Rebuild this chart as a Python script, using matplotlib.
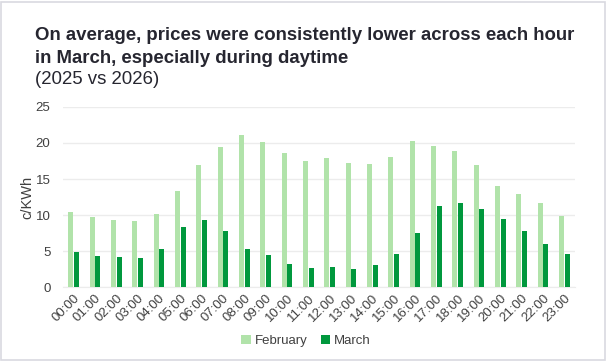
import matplotlib
matplotlib.use("Agg")
import matplotlib.pyplot as plt
import numpy as np
from matplotlib.patches import Rectangle

hours = [f"{h:02d}:00" for h in range(24)]
february = [10.4, 9.7, 9.3, 9.15, 10.1, 13.3, 16.9, 19.4, 21.1, 20.1, 18.6, 17.5,
            17.9, 17.2, 17.1, 18.0, 20.3, 19.6, 18.9, 16.9, 14.0, 12.9, 11.6, 9.9]
march = [4.85, 4.3, 4.15, 4.0, 5.3, 8.3, 9.3, 7.8, 5.3, 4.45, 3.2, 2.65,
         2.8, 2.55, 3.1, 4.6, 7.5, 11.2, 11.6, 10.8, 9.4, 7.8, 6.0, 4.6]
yticks = [0, 5, 10, 15, 20, 25]

plt.rcParams['font.family'] = ['Liberation Sans', 'DejaVu Sans']

W, H = 607, 361
fig = plt.figure(figsize=(W / 100, H / 100), dpi=100)
fig.patch.set_facecolor('white')

ax = fig.add_axes([63 / W, 74 / H, (575 - 63) / W, (287 - 107) / H])
x = np.arange(len(hours))
bw = 0.23
ax.bar(x - 0.13, february, width=bw, color='#b1e3aa', label='February', zorder=3)
ax.bar(x + 0.13, march, width=bw, color='#00983d', label='March', zorder=3)

ax.set_xlim(-0.5, len(hours) - 0.5)
ax.set_ylim(0, 25)
ax.set_yticks(yticks)
ax.yaxis.grid(True, color='#ececec', linewidth=1, zorder=0)
ax.set_axisbelow(True)
for s in ['top', 'right', 'left']:
    ax.spines[s].set_visible(False)
ax.spines['bottom'].set_color('#ececec')
ax.tick_params(axis='y', length=0, labelsize=9.5, colors='#404040', pad=9)
ax.tick_params(axis='x', length=0, labelsize=9.5, colors='#404040', pad=4)
ax.set_xticks(x)
ax.set_xticklabels(hours, rotation=45, ha='right', rotation_mode='anchor')
ax.set_ylabel('c/KWh', fontsize=10.5, color='#404040')
ax.yaxis.set_label_coords((34 - 63) / 512, 0.5)

fig.text(35 / W, 1 - 40 / H, 'On average, prices were consistently lower across each hour',
         fontsize=13.4, fontweight='bold', color='#262630', va='baseline')
fig.text(35 / W, 1 - 63 / H, 'in March, especially during daytime',
         fontsize=13.4, fontweight='bold', color='#262630', va='baseline')
fig.text(35 / W, 1 - 83.5 / H, '(2025 vs 2026)',
         fontsize=13.4, color='#262630', va='baseline')

leg = fig.legend(loc='center', bbox_to_anchor=(306 / W, 1 - 341 / H), ncol=2,
                 frameon=False, fontsize=9.5, handlelength=0.7, handleheight=0.7,
                 handletextpad=0.3, columnspacing=1.0)
for t in leg.get_texts():
    t.set_color('#404040')

fig.patches.append(Rectangle((0.5 / W, 1.5 / H), 604.5 / W, 358 / H, transform=fig.transFigure,
                             fill=False, edgecolor='#d9d9e0', linewidth=1.2))

fig.savefig('out.png', dpi=100)
